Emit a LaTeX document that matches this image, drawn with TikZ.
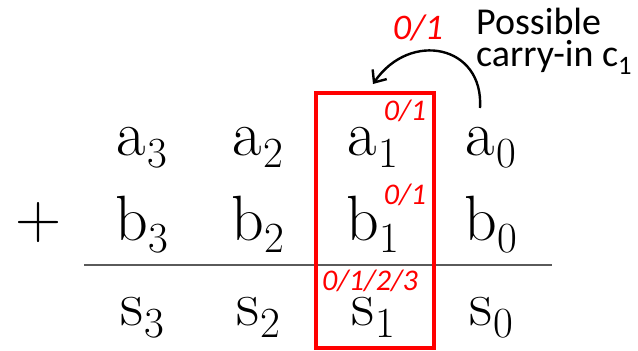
\documentclass[tikz,border=0pt]{standalone}
\usepackage{fontspec}
\usepackage{xcolor}
\usetikzlibrary{arrows.meta}
\newfontfamily\notefont{Carlito}
\definecolor{markred}{RGB}{255, 0, 0}
\definecolor{rulegray}{RGB}{90, 90, 90}
% letter with a lowered digit index, in text mode
\newcommand{\idx}[2]{#1\kern1pt\raisebox{-0.2em}{\fontsize{43}{43}\selectfont #2}}

\begin{document}
\begin{tikzpicture}[
  x=1pt, y=-1pt,
  digit/.style={anchor=base, inner sep=0pt, font=\fontsize{64}{64}\selectfont},
  note/.style={anchor=base west, inner sep=0pt, align=left, font=\notefont\fontsize{38}{32}\selectfont},
  valmark/.style={inner sep=0pt, text=markred, font=\notefont\itshape\fontsize{30}{30}\selectfont},
  colbox/.style={draw=markred, line width=4pt},
  sumline/.style={draw=rulegray, line width=1.6pt},
  carryarrow/.style={-{Straight Barb[length=3.5mm, width=6mm]}, line width=2.4pt, black}
]
\useasboundingbox (0,0) rectangle (638,351);

% Operands and sum
\node[digit] (a3) at (142,155) {\idx{a}{3}};
\node[digit] (a2) at (258,155) {\idx{a}{2}};
\node[digit] (a1) at (373,155) {\idx{a}{1}};
\node[digit] (a0) at (491,155) {\idx{a}{0}};

\node[digit] (plus) at (39,238) {+};
\node[digit] (b3) at (142,240) {\idx{b}{3}};
\node[digit] (b2) at (258,240) {\idx{b}{2}};
\node[digit] (b1) at (373,240) {\idx{b}{1}};
\node[digit] (b0) at (491,240) {\idx{b}{0}};

\coordinate (ruleL) at (84,265);
\coordinate (ruleR) at (552,265);
\draw[sumline] (ruleL) -- (ruleR);

\node[digit] (s3) at (142,325) {\idx{s}{3}};
\node[digit] (s2) at (258,325) {\idx{s}{2}};
\node[digit] (s1) at (373,325) {\idx{s}{1}};
\node[digit] (s0) at (491,325) {\idx{s}{0}};

% Column 1 box
\node[colbox, minimum width=118pt, minimum height=255pt] (col1) at (375,220.5) {};

% Possible values
\node[valmark] (ma1) at (405,111) {0/1};
\node[valmark] (mb1) at (405,195) {0/1};
\node[valmark] (ms1) at (370,281) {0/1/2/3};

% Carry-in
\node[note] (cinText) at (476,66) {Possible\\carry-in c\textsubscript{1}};
\node[valmark, font=\notefont\itshape\fontsize{36}{36}\selectfont] (mc1) at (418,28) {0/1};
\coordinate (cinTail) at (480,108);
\coordinate (cinTip) at (373,84);
\draw[carryarrow] (cinTail) .. controls (484,45) and (410,30) .. (cinTip);

\end{tikzpicture}
\end{document}
